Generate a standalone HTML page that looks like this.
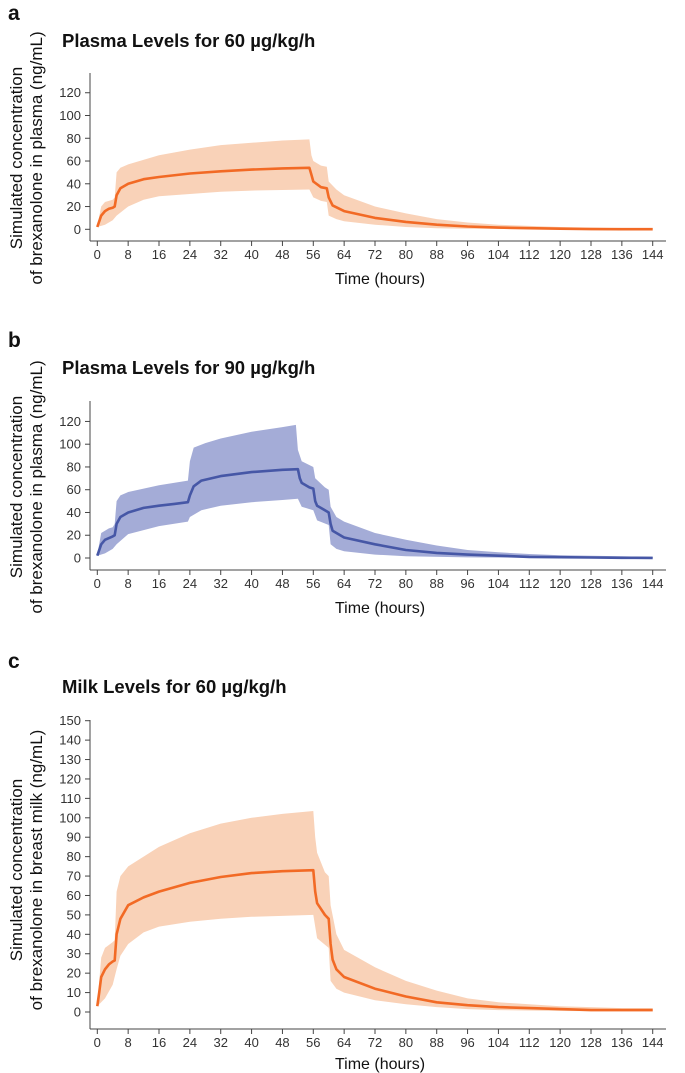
<!DOCTYPE html>
<html><head><meta charset="utf-8"><style>
body{margin:0;background:#fff;width:685px;height:1073px;overflow:hidden}
svg{display:block}
text{font-family:"Liberation Sans",sans-serif}
</style></head><body>
<svg id="chart" width="685" height="1073"></svg>
<script>
// Panel a: plasma 60
const aMeanT=[0,1,2,3,4,4.5,5,6,8,12,16,24,32,40,48,55,55.5,56,58,59.5,60,61,64,72,80,88,96,104,112,120,128,136,144];
const aMeanV=[2,12,16,18,19,20,30,36,40,44,46,49,51,52.5,53.5,54,48,42,37,36,28,21,16,10,6.5,4,2.5,1.5,1,0.5,0.2,0.1,0.1];
const aUpT=[0,1,2,4,4.5,5,6,8,16,24,32,40,48,55,55.5,56,58,59.5,60,62,64,72,80,88,96,104,112,120,128,136,144];
const aUpV=[3,20,24,26,28,50,54,57,65,70,74,76,78,79,65,60,56,55,42,35,30,20,14,9,6,4,3,2,1.5,1,1];
const aLoT=[0,2,4,5,8,12,16,24,32,40,48,55,56,58,59.5,60,62,64,72,80,88,96,112,144];
const aLoV=[2,4,8,12,20,26,29,31,33,34,34.5,35,28,25,24,12,9,7,4,2,1,0.5,0.2,0];
// Panel b: plasma 90
const bMeanT=[0,1,2,4,4.5,5,6,8,12,16,20,23.5,24,25,27,32,40,48,52,52.5,53,55,56,56.5,57,59,60,60.5,61,64,72,80,88,96,104,112,120,128,136,144];
const bMeanV=[2,12,16,19,20,30,36,40,44,46,47.5,49,55,63,68,72,75.5,77.5,78,70,66,62,61,50,46,42,40,30,24,18,12,7,4.5,3,2,1,0.7,0.4,0.2,0.1];
const bUpT=[0,1,3,4,4.5,5,6,8,16,23.5,24,25,28,32,40,48,51.5,52,53,56,56.5,59,60,60.5,62,64,72,80,88,96,104,112,120,128,136,144];
const bUpV=[3,22,26,27,30,50,55,58,64,68,85,97,101,105,111,115,117,95,85,80,70,62,60,45,36,32,22,16,11,7,5,3.5,2.5,2,1.5,1];
const bLoT=[0,2,4,5,8,16,23.5,24,27,32,40,48,52,53,56,57,60,60.5,62,64,72,80,96,120,144];
const bLoV=[2,4,8,12,21,28,32,36,42,46,49,51,52,45,42,33,29,12,8,6,3,1.5,0.5,0.2,0];
// Panel c: milk 60
const cMeanT=[0,0.5,1,2,3,4,4.5,5,6,8,12,16,24,32,40,48,56,56.5,57,59,60,60.5,61,62,64,72,80,88,96,104,112,120,128,136,144];
const cMeanV=[3,10,18,22,24.5,26,26.5,40,48,55,59,62,66.5,69.5,71.5,72.5,73,62,56,50,48,35,27,22,18,12,8,5,3.5,2.5,2,1.5,1,1,1];
const cUpT=[0,1,2,4,4.5,5,6,8,16,24,32,40,48,56,56.5,57,59,60,60.5,62,64,72,80,88,96,104,112,120,128,136,144];
const cUpV=[4,28,33,36,37,62,70,75,85,92,97,100,102,103.5,90,82,72,70,55,40,32,23,16,11,7,5,4,3,2.5,2,2];
const cLoT=[0,2,4,5,6,8,12,16,24,32,40,48,56,57,60,60.5,62,64,72,80,88,96,104,120,144];
const cLoV=[3,7,14,22,29,35,41,44,46.5,48,49,49.5,50,38,33,16,12,10,6,4,2.5,1.5,1,0.5,0.3];
const xTicks=[0,8,16,24,32,40,48,56,64,72,80,88,96,104,112,120,128,136,144];
const yTicksAB=[0,20,40,60,80,100,120];
const yTicksC=[0,10,20,30,40,50,60,70,80,90,100,110,120,130,140,150];

const NS="http://www.w3.org/2000/svg";
const svg=document.getElementById('chart');
function mk(tag,attrs,parent,txt){const e=document.createElementNS(NS,tag);for(const k in attrs)e.setAttribute(k,attrs[k]);if(txt!=null)e.textContent=txt;(parent||svg).appendChild(e);return e;}

function panel(o){
  const g=mk('g',{});
  
  
  const x=t=>97.3+t*3.857;
  const y=v=>o.y0-v*o.k;
  const lt=mk('text',{x:8,y:o.letterY,'font-size':21,'font-weight':'bold',fill:'#111'},g,o.letter);
  
  
  const tt=mk('text',{x:62,y:o.titleY,'font-size':18.5,'font-weight':'bold',fill:'#111'},g,o.title);
  
  
  let pts=o.upT.map((t,i)=>x(t).toFixed(1)+','+y(o.upV[i]).toFixed(1));
  for(let i=o.loT.length-1;i>=0;i--)pts.push(x(o.loT[i]).toFixed(1)+','+y(o.loV[i]).toFixed(1));
  const band=mk('polygon',{points:pts.join(' '),fill:o.band,stroke:'none'},g);
  
  
  const line=mk('polyline',{points:o.mT.map((t,i)=>x(t).toFixed(1)+','+y(o.mV[i]).toFixed(1)).join(' '),fill:'none',stroke:o.line,'stroke-width':2.6,'stroke-linejoin':'round'},g);
  
  
  const ya=mk('line',{x1:90,y1:o.top,x2:90,y2:o.axY,stroke:'#444','stroke-width':1},g);
  
  
  const xa=mk('line',{x1:90,y1:o.axY,x2:666,y2:o.axY,stroke:'#444','stroke-width':1},g);
  
  
  o.yt.forEach(v=>{
    mk('line',{x1:85,y1:y(v),x2:90,y2:y(v),stroke:'#444'},g);
    const l=mk('text',{x:81,y:y(v)+4.5,'font-size':13,'text-anchor':'end',fill:'#333'},g,v);
    
    
  });
  xTicks.forEach(t=>{
    mk('line',{x1:x(t),y1:o.axY,x2:x(t),y2:o.axY+5,stroke:'#444'},g);
    const l=mk('text',{x:x(t),y:o.axY+18,'font-size':13,'text-anchor':'middle',fill:'#333'},g,t);
    
    
  });
  const xt=mk('text',{x:380,y:o.axY+o.xtOff,'font-size':16,'text-anchor':'middle',fill:'#111'},g,'Time (hours)');
  
  
  const cy=o.ytC;
  const y1=mk('text',{x:0,y:0,'font-size':17,'text-anchor':'middle',fill:'#111',transform:`translate(22,${cy}) rotate(-90)`},g,'Simulated concentration');
  
  
  const y2=mk('text',{x:0,y:0,'font-size':17,'text-anchor':'middle',fill:'#111',transform:`translate(42,${cy}) rotate(-90)`},g,o.ylab);
  
  
}
panel({name:'panel-a',letter:'a',letterY:20,title:'Plasma Levels for 60 µg/kg/h',titleY:47,y0:229.3,k:1.138,top:73,axY:241,xtOff:43,yt:yTicksAB,ytC:158,ylab:'of brexanolone in plasma (ng/mL)',mT:aMeanT,mV:aMeanV,upT:aUpT,upV:aUpV,loT:aLoT,loV:aLoV,line:'#f26a25',band:'#f9d2b8'});
panel({name:'panel-b',letter:'b',letterY:347,title:'Plasma Levels for 90 µg/kg/h',titleY:374,y0:558,k:1.138,top:401,axY:570,xtOff:43,yt:yTicksAB,ytC:487,ylab:'of brexanolone in plasma (ng/mL)',mT:bMeanT,mV:bMeanV,upT:bUpT,upV:bUpV,loT:bLoT,loV:bLoV,line:'#4657a6',band:'#a4acd7'});
panel({name:'panel-c',letter:'c',letterY:668,title:'Milk Levels for 60 µg/kg/h',titleY:693,y0:1012,k:1.942,top:720,axY:1029,xtOff:40,yt:yTicksC,ytC:870,ylab:'of brexanolone in breast milk (ng/mL)',mT:cMeanT,mV:cMeanV,upT:cUpT,upV:cUpV,loT:cLoT,loV:cLoV,line:'#f26a25',band:'#f9d2b8'});
</script>
</body></html>
